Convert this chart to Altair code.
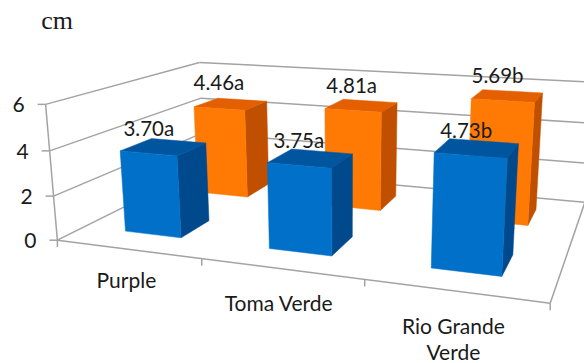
import altair as alt
import numpy as np
import pandas as pd

# Chart values
categories = ["Purple", "Toma Verde", "Rio Grande Verde"]
front_values = [3.70, 3.75, 4.73]
back_values = [4.46, 4.81, 5.69]
front_letters = ["a", "a", "b"]
back_letters = ["a", "a", "b"]
value_ticks = [0, 2, 4, 6]

# Bar footprint in box units
BAR_U = (0.30, 0.70)
FRONT_V = (0.153, 0.347)
BACK_V = (0.655, 0.850)

# Camera calibration: box corners (category, depth, value) -> page position
BOX = [(0, 0, 0), (0, 0, 2), (0, 0, 4), (0, 0, 6), (0, 1, 6), (0, 1, 4), (0, 1, 0),
       (3, 0, 0), (1, 0, 0), (2, 0, 0), (3, 1, 0), (3, 1, 6), (3, 1, 4), (3, 1, 2),
       (2.3, 0.153, 4.73), (2.7, 0.655, 5.69), (2.3, 0.655, 5.69), (2.7, 0.85, 5.69),
       (1.7, 0.655, 4.81), (0.3, 0.153, 3.7), (0.7, 0.153, 3.7), (0.7, 0.655, 4.46)]
PAGE = [(57, 240), (54, 196), (50, 151), (46, 104), (199, 62), (200, 98), (205, 168),
        (550, 303), (201, 259), (364, 280), (585, 202), (593, 82.4), (590.5, 123.3), (587.8, 162.3),
        (435, 153), (535, 102), (472, 99), (542, 94),
        (381, 112), (120, 151), (177, 155), (245, 111)]

rows = []
for (u, v, w), (x, y) in zip(BOX, PAGE):
    rows.append([u, v, w, 1, 0, 0, 0, 0, -x * u, -x * v, -x * w, -x])
    rows.append([0, 0, 0, 0, u, v, w, 1, -y * u, -y * v, -y * w, -y])
CAMERA = np.linalg.svd(np.array(rows, float))[2][-1].reshape(3, 4)


def project(u, v, w):
    q = CAMERA @ np.array([u, v, w, 1.0])
    return float(q[0] / q[2]), float(q[1] / q[2])


BLUE = {"front": "#0070c9", "top": "#00559f", "side": "#00498c"}
ORANGE = {"front": "#ff7a05", "top": "#e35f00", "side": "#c04f00"}
GRID = "#a3a3a3"

faces = []
def add_face(name, corners, color):
    for i, c in enumerate(corners):
        x, y = project(*c)
        faces.append({"face": name, "i": i, "x": x, "y": y, "color": color})


def add_bar(name, idx, vr, val, pal):
    u0, u1 = idx + BAR_U[0], idx + BAR_U[1]
    v0, v1 = vr
    add_face(name + "-side", [(u1, v0, 0), (u1, v1, 0), (u1, v1, val), (u1, v0, val), (u1, v0, 0)], pal["side"])
    add_face(name + "-top", [(u0, v0, val), (u1, v0, val), (u1, v1, val), (u0, v1, val), (u0, v0, val)], pal["top"])
    add_face(name + "-front", [(u0, v0, 0), (u1, v0, 0), (u1, v0, val), (u0, v0, val), (u0, v0, 0)], pal["front"])


for i, val in enumerate(back_values):
    add_bar(f"back{i}", i, BACK_V, val, ORANGE)
for i, val in enumerate(front_values):
    add_bar(f"front{i}", i, FRONT_V, val, BLUE)

# Walls, floor outline and tick marks
lines = []
def add_line(name, a, b):
    for i, c in enumerate((a, b)):
        x, y = c
        lines.append({"seg": name, "i": i, "x": x, "y": y})


for t in value_ticks:
    add_line(f"wall-l{t}", project(0, 0, t), project(0, 1, t))
    add_line(f"wall-b{t}", project(0, 1, t), project(3, 1, t))
    x, y = project(0, 0, t)
    add_line(f"tick-v{t}", (x - 8, y), (x, y))
add_line("axis-v", project(0, 0, 0), project(0, 0, max(value_ticks)))
add_line("floor-f", project(0, 0, 0), project(3, 0, 0))
add_line("floor-r", project(3, 0, 0), project(3, 1, 0))
for k in range(4):
    x, y = project(k, 0, 0)
    add_line(f"tick-u{k}", (x, y), (x, y + 7))

# Text: bar labels, value axis, category axis
texts = []
front_label_shift = [(-15, -17), (-12, -16), (-11, -16)]
back_label_shift = [(-12, -20), (-10, -19), (-10, -19)]
for i, val in enumerate(back_values):
    x, y = project(i + 0.5, sum(BACK_V) / 2, val)
    dx, dy = back_label_shift[i]
    texts.append({"x": x + dx, "y": y + dy, "t": f"{val:.2f}{back_letters[i]}"})
for i, val in enumerate(front_values):
    x, y = project(i + 0.5, sum(FRONT_V) / 2, val)
    dx, dy = front_label_shift[i]
    texts.append({"x": x + dx, "y": y + dy, "t": f"{val:.2f}{front_letters[i]}"})
axis_texts = []
for t in value_ticks:
    x, y = project(0, 0, t)
    axis_texts.append({"x": x - 27, "y": y + 2, "t": str(t)})
cat_texts = []
cat_shift = [(-1, 33), (-2, 36), (-1, 37)]
for i, name in enumerate(categories):
    x, y = project(i + 0.5, 0, 0)
    dx, dy = cat_shift[i]
    if name == "Rio Grande Verde":
        cat_texts.append({"x": x + dx, "y": y + dy, "t": "Rio Grande"})
        cat_texts.append({"x": x + dx, "y": y + dy + 26, "t": "Verde"})
    else:
        cat_texts.append({"x": x + dx, "y": y + dy, "t": name})

X = alt.X("x:Q", scale=alt.Scale(domain=[0, 584], range=[0, 584], nice=False, zero=False), axis=None)
Y = alt.Y("y:Q", scale=alt.Scale(domain=[0, 363], range=[0, 363], nice=False, zero=False), axis=None)

line_layer = alt.Chart(pd.DataFrame(lines)).mark_line(color=GRID, strokeWidth=1.5, clip=True).encode(
    x=X, y=Y, detail="seg:N", order="i:Q")
face_layer = alt.Chart(pd.DataFrame(faces)).mark_line(strokeWidth=0.5, clip=True, interpolate="linear").encode(
    x=X, y=Y,
    detail="face:N",
    order="i:Q",
    fill=alt.Fill("color:N", scale=None),
    stroke=alt.Stroke("color:N", scale=None),
)

FONT = "Lato"
label_layer = alt.Chart(pd.DataFrame(texts)).mark_text(font=FONT, fontSize=20.5, color="#1a1a1a", align="center", baseline="middle").encode(
    x=X, y=Y, text="t:N")
value_layer = alt.Chart(pd.DataFrame(axis_texts)).mark_text(font=FONT, fontSize=21, color="#1a1a1a", align="center", baseline="middle").encode(
    x=X, y=Y, text="t:N")
cat_layer = alt.Chart(pd.DataFrame(cat_texts)).mark_text(font=FONT, fontSize=21, color="#1a1a1a", align="center", baseline="middle").encode(
    x=X, y=Y, text="t:N")
unit_layer = alt.Chart(pd.DataFrame([{"x": 57, "y": 21, "t": "cm"}])).mark_text(
    font="Liberation Serif", fontSize=26, color="#1a1a1a", align="center", baseline="middle").encode(
    x=X, y=Y, text="t:N")

chart = (
    alt.layer(line_layer, face_layer, label_layer, value_layer, cat_layer, unit_layer)
    .properties(width=584, height=363, padding=0, background="white",
                autosize=alt.AutoSizeParams(type="none"))
    .configure_view(stroke=None)
)
chart.save("out.html", embed_options={"renderer": "svg", "actions": False})
